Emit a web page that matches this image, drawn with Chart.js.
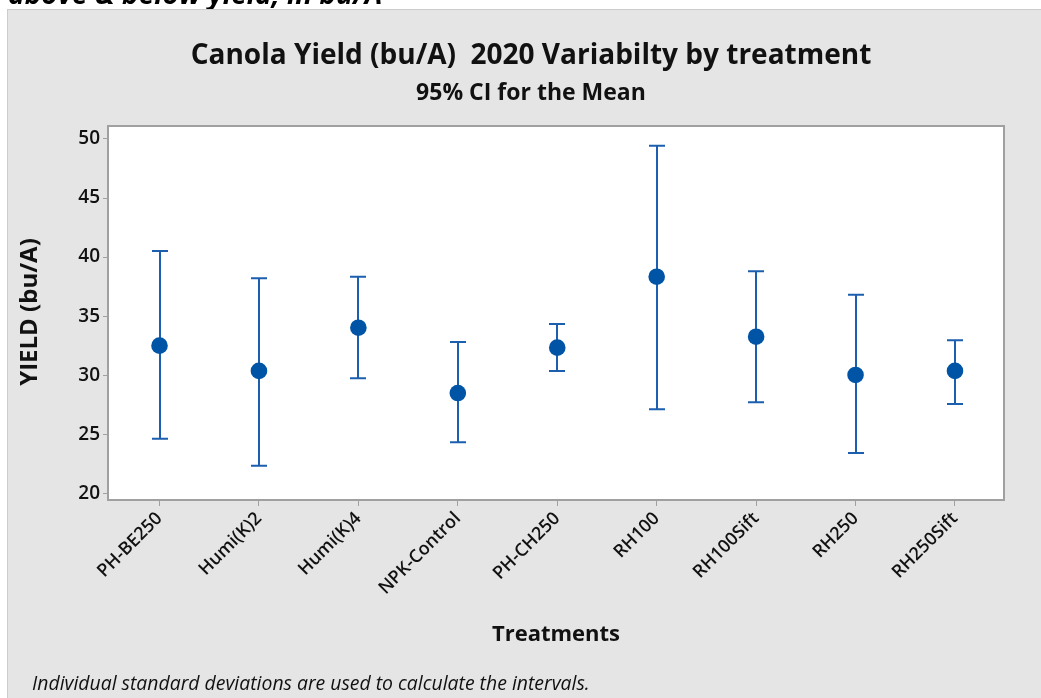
<!DOCTYPE html>
<html>
<head>
<meta charset="utf-8">
<script src="https://cdn.jsdelivr.net/npm/chart.js@4/dist/chart.umd.min.js"></script>
<style>
  html, body { margin: 0; padding: 0; background: #fff; }
  #wrap { width: 1041px; height: 698px; position: relative; }
</style>
</head>
<body>
<div id="wrap"><canvas id="ciChart"></canvas></div>
<script>
// --- data ---
const categories = ['PH-BE250', 'Humi(K)2', 'Humi(K)4', 'NPK-Control', 'PH-CH250', 'RH100', 'RH100Sift', 'RH250', 'RH250Sift'];
const means   = [32.50, 30.36, 34.02, 28.49, 32.33, 38.34, 33.26, 30.02, 30.36];
const lowerCI = [24.62, 22.34, 29.74, 24.32, 30.36, 27.11, 27.71, 23.41, 27.56];
const upperCI = [40.52, 38.20, 38.34, 32.81, 34.34, 49.43, 38.80, 36.82, 32.95];
const yTicks  = [20, 25, 30, 35, 40, 45, 50];

const FONT = "'Open Sans', 'Noto Sans', sans-serif";
const BLUE = '#0054a6';
const LINE_BLUE = '#1b5fae';

// panel, titles, footnote
const framePlugin = {
    id: 'frame',
    beforeDraw(chart) {
        const ctx = chart.ctx;
        const a = chart.chartArea;
        ctx.save();
        ctx.fillStyle = '#ffffff';
        ctx.fillRect(0, 0, chart.width, chart.height);
        // cut-off text above the panel
        ctx.fillStyle = '#000';
        ctx.font = "italic 700 28px " + FONT;
        ctx.textBaseline = 'alphabetic';
        ctx.textAlign = 'left';
        ctx.fillText('above & below yield, in bu/A', 8, 4);
        // grey panel
        ctx.fillStyle = '#e5e5e5';
        ctx.fillRect(7, 9, chart.width - 7, chart.height - 9);
        ctx.strokeStyle = '#cccccc';
        ctx.lineWidth = 1;
        ctx.strokeRect(7.5, 9.5, chart.width, chart.height);
        // white plot area
        ctx.fillStyle = '#ffffff';
        ctx.fillRect(a.left, a.top, a.right - a.left, a.bottom - a.top);

        ctx.fillStyle = '#111';
        ctx.textAlign = 'center';
        ctx.textBaseline = 'middle';
        ctx.font = "700 28px " + FONT;
        ctx.fillText('Canola Yield (bu/A)  2020 Variabilty by treatment', 531, 56);
        ctx.font = "700 23px " + FONT;
        ctx.fillText('95% CI for the Mean', 531, 93);
        ctx.font = "700 22px " + FONT;
        ctx.fillText('Treatments', 556, 635);
        ctx.save();
        ctx.translate(30, 312);
        ctx.rotate(-Math.PI / 2);
        ctx.font = "700 24px " + FONT;
        ctx.fillText('YIELD (bu/A)', 0, 0);
        ctx.restore();
        ctx.textAlign = 'left';
        ctx.font = "italic 400 19.4px " + FONT;
        ctx.fillText('Individual standard deviations are used to calculate the intervals.', 32, 684);
        ctx.restore();
    },
    beforeDatasetsDraw(chart) {
        const ctx = chart.ctx;
        const a = chart.chartArea;
        const xs = chart.scales.x, ys = chart.scales.y;
        ctx.save();
        // plot border
        ctx.strokeStyle = '#a0a0a0';
        ctx.lineWidth = 2;
        ctx.strokeRect(a.left, a.top, a.right - a.left, a.bottom - a.top);
        // error bars
        ctx.strokeStyle = LINE_BLUE;
        ctx.lineWidth = 2;
        for (let i = 0; i < categories.length; i++) {
            const px = Math.round(xs.getPixelForValue(i));
            const yl = ys.getPixelForValue(lowerCI[i]);
            const yu = ys.getPixelForValue(upperCI[i]);
            ctx.beginPath();
            ctx.moveTo(px, yl); ctx.lineTo(px, yu);
            ctx.moveTo(px - 8, yl); ctx.lineTo(px + 8, yl);
            ctx.moveTo(px - 8, yu); ctx.lineTo(px + 8, yu);
            ctx.stroke();
        }
        ctx.restore();
    }
};

const ctx = document.getElementById('ciChart').getContext('2d');
const chart = new Chart(ctx, {
    type: 'scatter',
    data: {
        datasets: [{
            label: 'Mean',
            data: means.map((m, i) => ({ x: i, y: m })),
            backgroundColor: BLUE,
            borderWidth: 0,
            pointRadius: 8.3,
            pointHoverRadius: 8.3
        }]
    },
    options: {
        responsive: true,
        maintainAspectRatio: false,
        animation: false,
        layout: { padding: { left: 0, top: 126, right: 37, bottom: 0 } },
        plugins: { legend: { display: false }, tooltip: { enabled: false } },
        scales: {
            x: {
                type: 'linear',
                min: -0.518,
                max: 8.493,
                afterBuildTicks: scale => { scale.ticks = categories.map((c, i) => ({ value: i })); },
                afterFit: scale => { scale.height = 198; },
                grid: { drawOnChartArea: false, tickLength: 6, color: '#a0a0a0', lineWidth: 1 },
                border: { display: false },
                ticks: {
                    autoSkip: false,
                    minRotation: 45,
                    maxRotation: 45,
                    padding: 2,
                    color: '#111',
                    font: { family: FONT, size: 18, weight: '600' },
                    callback: v => categories[v]
                }
            },
            y: {
                min: 19.43,
                max: 51.1,
                afterBuildTicks: scale => { scale.ticks = yTicks.map(v => ({ value: v })); },
                afterFit: scale => { scale.width = 108; },
                grid: { drawOnChartArea: false, tickLength: 5, color: '#a0a0a0', lineWidth: 1 },
                border: { display: false },
                ticks: {
                    padding: 3,
                    color: '#111',
                    font: { family: FONT, size: 19, weight: '600' }
                }
            }
        }
    },
    plugins: [framePlugin]
});
</script>
</body>
</html>
